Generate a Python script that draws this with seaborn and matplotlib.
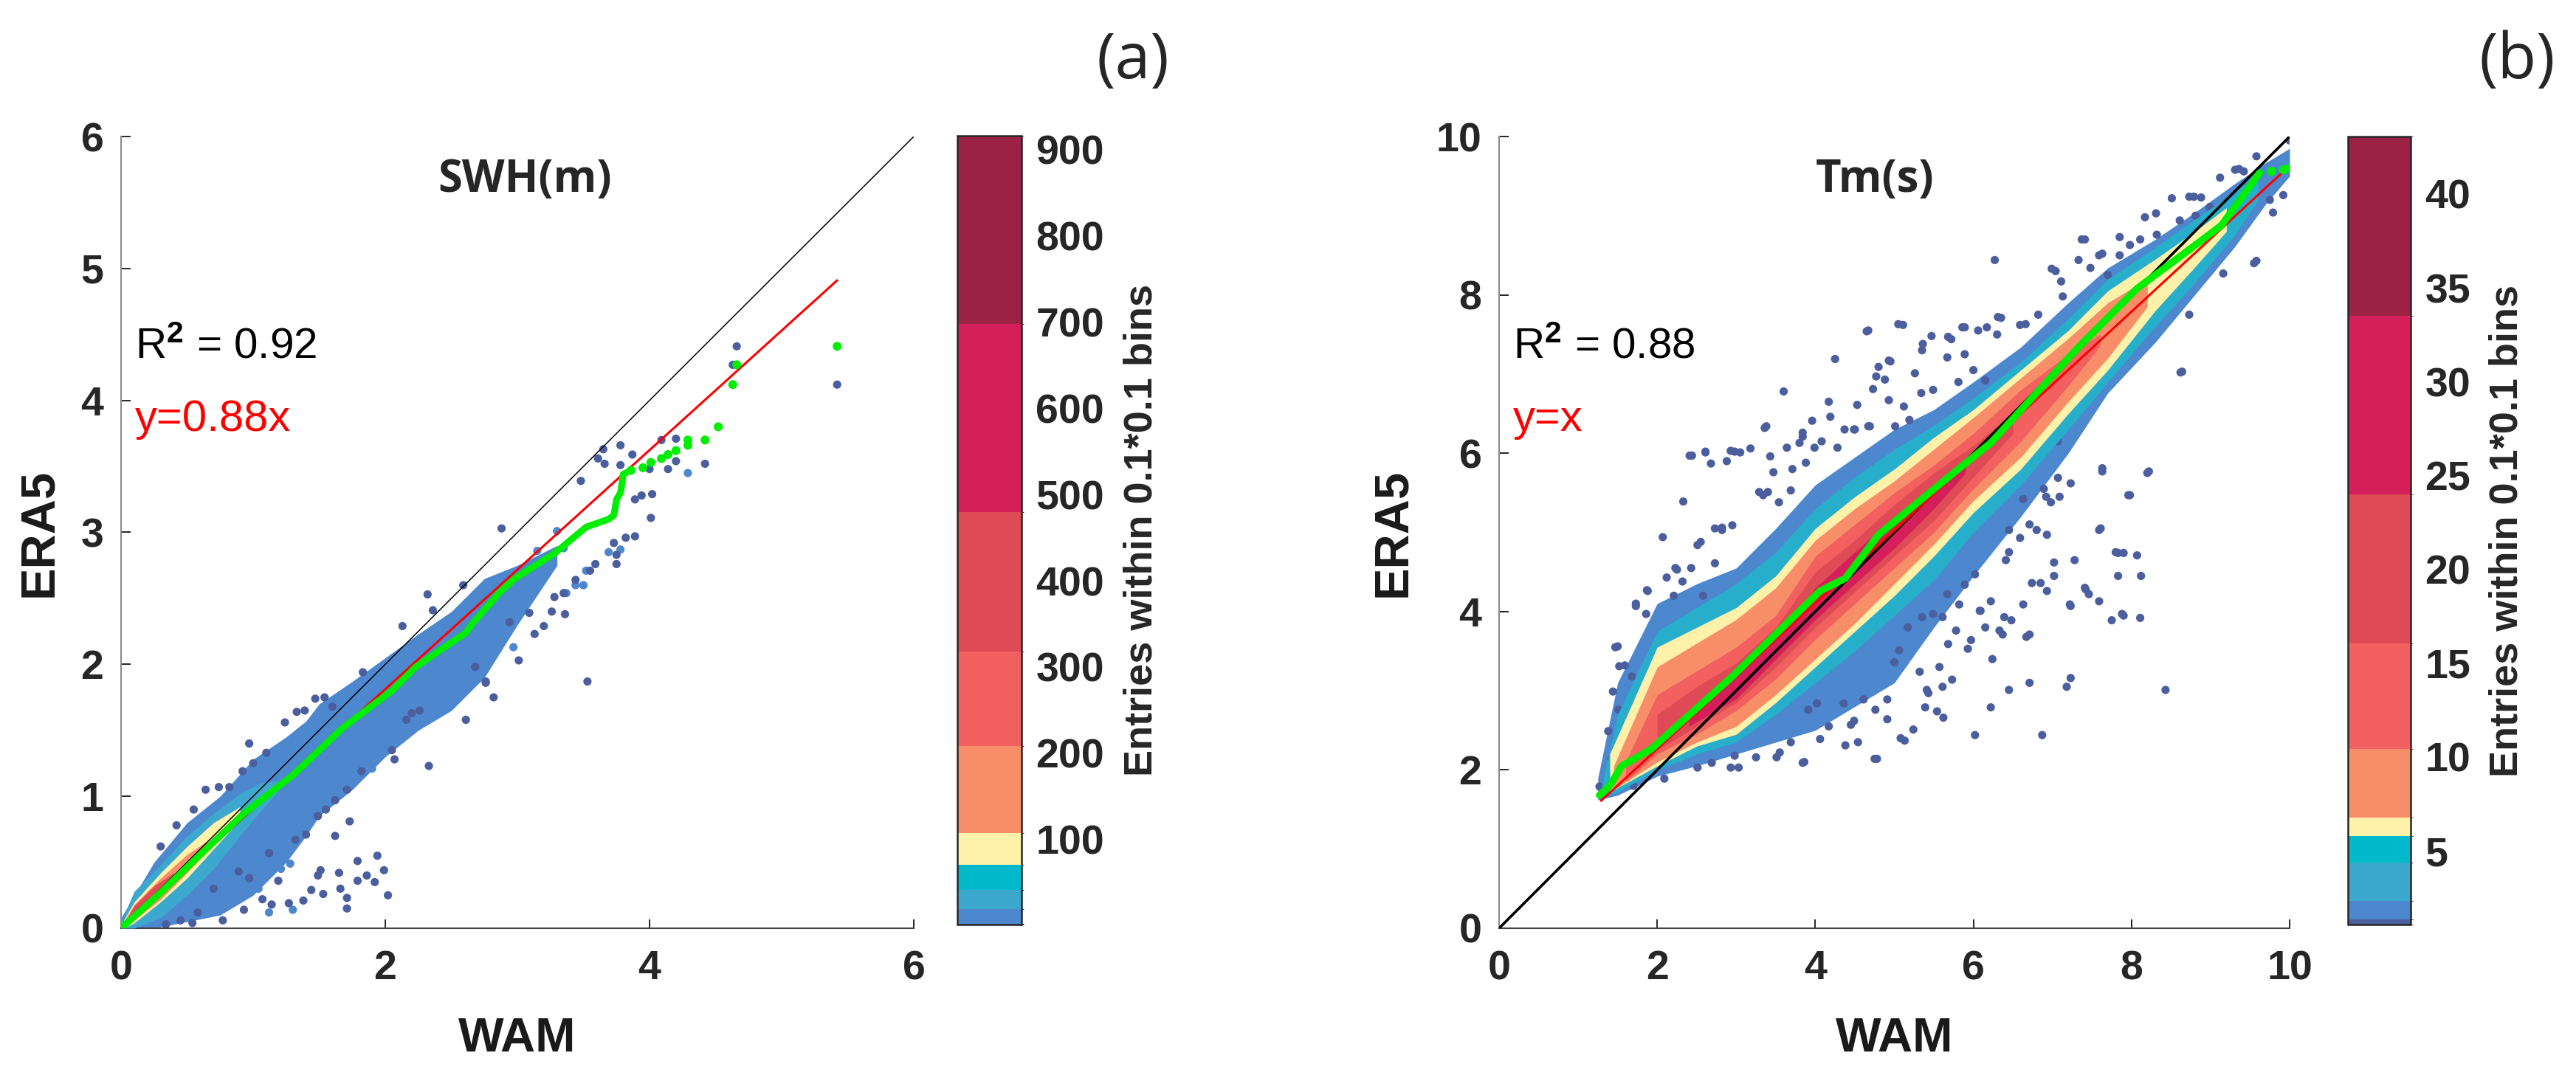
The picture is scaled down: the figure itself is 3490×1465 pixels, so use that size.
import numpy as np
import pandas as pd
import seaborn as sns
import matplotlib as mpl
import matplotlib.pyplot as plt
from matplotlib.colors import ListedColormap, BoundaryNorm

# density classes (colours of the colorbar, low -> high)
class_colors = ['#4b5e9d', '#4d87ce', '#3da8cd', '#00bacb', '#fef1aa',
                '#f78e69', '#f26160', '#de4a55', '#d41f5b', '#9b2245']
swh_bounds = [1, 2, 19.4, 41.4, 70.3, 107.2, 208.6, 318, 480, 698, 916]
tm_bounds = [1.07, 1.35, 2.33, 4.38, 5.79, 6.77, 10.42, 16.04, 24.0, 33.5, 43.06]
swh_cbar_ticks = [100, 200, 300, 400, 500, 600, 700, 800, 900]
tm_cbar_ticks = [5, 10, 15, 20, 25, 30, 35, 40]

# ---------------- panel (a): SWH ----------------
# envelopes of the density zones (x, lower y, upper y)
swh_blue_x = [0.0, 0.25, 0.5, 0.75, 1.0, 1.25, 1.4, 1.5, 1.75, 2.0, 2.25, 2.5, 2.75, 3.0, 3.3]
swh_blue_lo = [0.0, 0.0, 0.05, 0.1, 0.25, 0.5, 0.7, 0.85, 1.05, 1.3, 1.5, 1.65, 1.9, 2.3, 2.75]
swh_blue_hi = [0.08, 0.5, 0.8, 1.0, 1.28, 1.45, 1.57, 1.7, 1.87, 2.05, 2.23, 2.4, 2.65, 2.75, 2.9]
swh_cyan_x = [0.0, 0.1, 0.3, 0.5, 0.7, 0.9, 1.05, 1.2]
swh_cyan_lo = [0.0, 0.0, 0.08, 0.25, 0.45, 0.7, 0.88, 1.05]
swh_cyan_hi = [0.05, 0.28, 0.48, 0.7, 0.87, 1.02, 1.1, 1.12]
swh_yel_x = [0.02, 0.1, 0.3, 0.5, 0.7, 0.9]
swh_yel_lo = [0.0, 0.04, 0.2, 0.38, 0.6, 0.82]
swh_yel_hi = [0.06, 0.2, 0.42, 0.62, 0.8, 0.92]
swh_org_x = [0.02, 0.1, 0.3, 0.5, 0.65]
swh_org_lo = [0.0, 0.06, 0.22, 0.42, 0.58]
swh_org_hi = [0.05, 0.18, 0.38, 0.56, 0.66]
swh_red_x = [0.03, 0.1, 0.25, 0.4]
swh_red_lo = [0.02, 0.07, 0.2, 0.35]
swh_red_hi = [0.05, 0.17, 0.32, 0.42]
swh_crim_x = [0.05, 0.12, 0.2]
swh_crim_lo = [0.04, 0.09, 0.16]
swh_crim_hi = [0.07, 0.15, 0.22]

# single-entry points (navy) and sparse blue points
swh_navy_x = [0.64, 0.74, 0.82, 0.97, 0.92, 1.24, 1.33, 1.39, 1.47, 1.54, 1.60, 1.83, 2.13, 2.32,
              2.36, 2.59, 2.20, 2.26, 2.16, 2.33, 2.61, 2.76, 2.82, 2.68, 2.05, 2.07, 1.82, 1.71,
              1.62, 1.55, 1.49, 1.73, 1.62, 1.40, 1.32, 1.12, 1.94, 1.99, 1.86, 1.92, 2.02, 1.79,
              1.65, 1.66, 1.71, 1.71, 1.79, 1.51, 1.49, 1.53, 1.44, 1.38, 1.14, 1.07, 0.93, 0.77,
              0.54, 0.45, 0.34, 1.19, 1.27, 0.97, 0.89,
              4.66, 4.63, 5.42, 4.42, 4.20, 4.20, 4.14, 4.09, 4.00, 4.02, 4.01, 3.94, 3.89, 3.89,
              3.82, 3.78, 3.87, 3.78, 3.66, 3.65, 3.61, 3.48, 3.75, 3.75, 3.73, 3.59, 3.55, 3.44,
              3.35, 3.28, 3.36, 3.26, 3.20, 3.13, 3.09, 2.88, 2.94, 3.01, 3.53, 2.76,
              0.30, 0.42, 0.55, 1.10, 1.00, 0.58, 0.70]
swh_navy_y = [1.05, 1.07, 1.07, 1.40, 1.19, 1.56, 1.64, 1.65, 1.74, 1.75, 1.68, 1.94, 2.29, 2.53,
              2.41, 2.60, 1.63, 1.65, 1.58, 1.23, 1.58, 1.87, 1.75, 1.98, 1.35, 1.28, 1.19, 1.05,
              0.97, 0.90, 0.85, 0.81, 0.70, 0.71, 0.67, 0.57, 0.55, 0.44, 0.40, 0.35, 0.25, 0.51,
              0.42, 0.30, 0.23, 0.15, 0.36, 0.44, 0.40, 0.26, 0.29, 0.21, 0.18, 0.22, 0.14, 0.06,
              0.04, 0.06, 0.03, 0.36, 0.19, 0.38, 0.43,
              4.41, 4.27, 4.12, 3.52, 3.71, 3.54, 3.48, 3.70, 3.48, 3.29, 3.11, 3.28, 3.25, 2.97,
              2.96, 3.66, 3.59, 3.51, 3.52, 3.63, 3.56, 3.39, 2.83, 2.76, 2.92, 2.76, 2.71, 2.64,
              2.54, 2.51, 2.38, 2.40, 2.29, 2.23, 2.39, 3.03, 2.32, 2.03, 1.87, 1.86,
              0.62, 0.78, 0.90, 1.33, 1.25, 0.12, 0.30]
swh_blue_pts_x = [4.29, 3.30, 3.15, 3.35, 3.78, 3.69, 3.52, 3.50, 3.44, 3.37, 3.02, 2.97, 2.77,
                  2.38, 1.90, 1.21, 1.30, 1.12, 1.04, 1.28, 0.84, 0.71]
swh_blue_pts_y = [3.45, 3.01, 2.86, 2.88, 2.87, 2.85, 2.71, 2.60, 2.60, 2.54, 2.44, 2.13, 2.12,
                  1.68, 1.21, 0.45, 0.14, 0.12, 0.30, 0.49, 0.27, 0.17]

swh_fit_x = [0.0, 5.42]
swh_fit_y = [0.0, 4.91]
swh_qq_x = [0.0, 0.3, 0.56, 0.93, 1.30, 1.68, 2.05, 2.23, 2.61, 2.66, 2.87, 2.98, 3.28, 3.52,
            3.69, 3.73, 3.75, 3.78, 3.79, 3.80, 3.86, 3.95, 4.01, 4.09, 4.14, 4.20, 4.29, 4.29,
            4.42, 4.52, 4.63, 4.66, 5.42]
swh_qq_y = [0.0, 0.27, 0.52, 0.87, 1.16, 1.52, 1.80, 1.98, 2.24, 2.31, 2.55, 2.65, 2.84, 3.04,
            3.10, 3.13, 3.25, 3.30, 3.36, 3.44, 3.47, 3.49, 3.53, 3.56, 3.59, 3.62, 3.66, 3.70,
            3.70, 3.80, 4.12, 4.27, 4.41]

# ---------------- panel (b): Tm ----------------
tm_blue_x = [1.25, 1.5, 2.0, 2.5, 3.0, 3.5, 4.0, 4.5, 5.0, 5.5, 6.0, 6.6, 7.2, 7.7, 8.3, 8.8, 9.3, 9.7, 10.0]
tm_blue_lo = [1.62, 1.68, 1.92, 2.05, 2.2, 2.35, 2.5, 2.8, 3.1, 3.8, 4.45, 5.2, 6.0, 6.76, 7.4, 8.0, 8.6, 9.15, 9.5]
tm_blue_hi = [1.9, 3.1, 4.1, 4.35, 4.55, 5.05, 5.6, 5.95, 6.3, 6.55, 6.9, 7.34, 7.9, 8.34, 8.7, 9.04, 9.4, 9.67, 9.85]
tm_cyan_x = [1.3, 1.5, 2.0, 2.5, 3.0, 3.5, 4.0, 4.5, 5.0, 5.5, 6.0, 6.6, 7.2, 7.7, 8.3, 8.8, 9.3, 9.6]
tm_cyan_lo = [1.66, 1.72, 2.0, 2.2, 2.35, 2.7, 3.1, 3.5, 3.95, 4.4, 5.0, 5.6, 6.3, 6.9, 7.6, 8.15, 8.75, 9.2]
tm_cyan_hi = [1.8, 2.7, 3.75, 4.05, 4.35, 4.75, 5.3, 5.7, 6.05, 6.35, 6.7, 7.15, 7.7, 8.2, 8.6, 8.95, 9.3, 9.5]
tm_yel_x = [1.4, 2.0, 2.5, 3.0, 3.5, 4.0, 4.5, 5.0, 5.5, 6.0, 6.6, 7.2, 7.7, 8.3, 8.8, 9.2]
tm_yel_lo = [1.72, 2.05, 2.3, 2.45, 2.85, 3.3, 3.75, 4.2, 4.7, 5.25, 5.8, 6.5, 7.05, 7.8, 8.35, 8.8]
tm_yel_hi = [2.2, 3.55, 3.8, 4.05, 4.45, 5.05, 5.45, 5.8, 6.2, 6.55, 7.05, 7.55, 8.05, 8.45, 8.8, 9.1]
tm_org_x = [1.45, 2.0, 2.5, 3.0, 3.5, 4.0, 4.5, 5.0, 5.5, 6.0, 6.6, 7.2, 7.7, 8.2]
tm_org_lo = [1.75, 2.1, 2.35, 2.55, 2.95, 3.4, 3.85, 4.35, 4.85, 5.4, 5.95, 6.65, 7.2, 7.85]
tm_org_hi = [2.05, 3.3, 3.6, 3.9, 4.3, 4.9, 5.3, 5.65, 6.05, 6.45, 6.95, 7.45, 7.9, 8.2]
tm_sal_x = [1.6, 2.0, 2.5, 3.0, 3.5, 4.0, 4.5, 5.0, 5.5, 6.0, 6.6, 7.2, 7.6]
tm_sal_lo = [1.85, 2.2, 2.45, 2.75, 3.15, 3.65, 4.1, 4.55, 5.0, 5.55, 6.15, 6.85, 7.35]
tm_sal_hi = [2.1, 2.95, 3.25, 3.55, 3.95, 4.7, 5.1, 5.5, 5.85, 6.25, 6.8, 7.25, 7.5]
tm_red_x = [2.0, 2.5, 3.0, 3.5, 4.0, 4.5, 5.0, 5.5, 6.0, 6.5]
tm_red_lo = [2.25, 2.55, 2.85, 3.3, 3.8, 4.25, 4.7, 5.15, 5.7, 6.25]
tm_red_hi = [2.7, 3.05, 3.35, 3.8, 4.5, 4.9, 5.35, 5.75, 6.1, 6.5]
tm_crim_x = [2.4, 3.0, 3.5, 4.0, 4.5, 5.0, 5.5, 5.9]
tm_crim_lo = [2.55, 2.9, 3.4, 3.9, 4.35, 4.8, 5.3, 5.75]
tm_crim_hi = [2.7, 3.2, 3.65, 4.3, 4.75, 5.2, 5.6, 5.9]

tm_navy_x = [2.41, 2.61, 2.98, 2.33, 2.07, 1.52, 1.47, 1.73, 1.87, 2.25, 2.51, 2.82, 3.34, 3.36,
             3.60, 3.84, 4.25, 4.77, 5.05, 4.65, 4.93, 4.17, 3.96, 3.18, 5.36, 5.68, 5.86, 6.27,
             6.31, 6.66, 6.99, 7.13, 7.37, 7.59, 7.85, 8.17, 8.73, 9.36, 8.89, 8.32,
             8.43, 8.11, 7.88, 7.83, 7.80, 8.07, 7.96, 8.62, 8.20, 7.63, 7.59, 7.23, 7.23, 7.18,
             6.87, 6.45, 6.02, 6.22, 6.71, 7.41, 7.02, 6.85, 6.71, 6.37, 6.24, 5.93, 6.09, 5.73,
             5.62, 5.39, 5.08, 4.75, 4.38, 3.84, 3.55, 2.98, 2.69, 5.41, 5.00, 7.23, 6.92, 7.07,
             6.71, 6.45, 1.27, 1.42, 9.55, 9.75, 10.0,
             # upper-left side, dense part
             4.67, 5.11, 5.47, 5.35, 5.72, 5.89, 6.06, 6.17, 6.30, 6.35, 6.59, 5.89, 4.95, 4.80,
             5.26, 4.88, 4.73, 5.67, 6.00, 6.15, 5.81, 5.49, 5.12, 4.93, 4.53, 5.19, 5.01, 4.67,
             4.49, 5.34, 6.82, 7.04, 7.11, 7.33, 7.41, 7.48, 7.63, 7.70, 7.85, 7.98, 8.11, 8.31,
             8.51, 8.79, 8.88, 8.99, 9.12, 9.31, 9.42, 9.58, 8.81, 8.61,
             2.44, 2.61, 2.68, 2.88, 2.93, 3.05, 1.73, 1.88, 1.86, 1.50, 1.59, 1.44, 1.38, 1.51,
             1.68, 2.21, 2.12, 2.23, 2.32, 2.43, 2.55, 2.73, 2.82, 2.95, 2.58, 2.73, 3.29, 3.40,
             3.43, 3.38, 3.64, 3.80, 3.84, 3.99, 4.08, 4.19, 4.28, 4.37, 4.50, 4.69, 3.71, 3.47,
             3.54, 3.69, 3.88,
             # lower-right side, dense part
             9.92, 9.79, 9.58, 9.16, 8.73, 8.64, 8.22, 7.98, 7.63, 7.61, 7.83, 7.90, 8.12, 7.90,
             7.75, 7.59, 7.42, 7.22, 7.28, 6.93, 7.02, 6.74, 6.93, 6.80, 6.98, 7.09, 7.07, 6.89,
             6.63, 6.59, 6.45, 6.41, 6.63, 6.39, 6.48, 6.22, 6.15, 6.33, 5.97, 5.78, 5.82, 5.89,
             5.67, 5.49, 6.02, 6.08, 6.67, 7.46,
             4.78, 5.13, 4.54, 4.45, 4.06, 3.86, 3.69, 3.51, 3.25, 3.03, 2.93, 2.51, 2.09, 1.70,
             5.24, 5.54, 5.43, 5.32, 5.57, 5.61, 5.68, 4.91, 4.76, 4.61, 4.36, 4.17, 5.06, 5.17,
             5.35, 5.61, 4.91, 4.49, 4.02, 3.91]
tm_navy_y = [5.97, 6.02, 6.02, 5.39, 4.94, 3.31, 3.55, 4.07, 4.27, 4.53, 4.84, 5.06, 5.47, 6.32,
             6.78, 6.21, 7.19, 6.97, 7.63, 7.54, 7.17, 6.65, 6.41, 6.06, 7.38, 7.47, 7.59, 8.44,
             7.72, 7.63, 8.33, 7.98, 8.70, 8.50, 8.50, 8.98, 9.24, 9.59, 8.88, 8.76,
             3.01, 3.92, 3.97, 4.45, 4.75, 4.71, 5.47, 7.02, 5.75, 5.77, 5.03, 4.07, 3.16, 3.05,
             2.44, 3.01, 2.44, 2.79, 3.10, 4.30, 4.62, 4.36, 3.71, 3.71, 3.40, 3.53, 4.01, 3.14,
             2.66, 2.79, 2.40, 2.14, 2.31, 2.09, 2.22, 2.18, 2.09, 3.01, 3.36, 5.62, 5.45, 6.15,
             5.10, 4.75, 1.79, 2.14, 8.40, 9.20, 9.95,
             7.55, 7.62, 7.48, 7.30, 7.44, 7.59, 7.55, 7.59, 7.50, 7.71, 7.62, 7.25, 7.16, 7.09,
             7.01, 6.93, 6.81, 7.21, 7.05, 6.92, 6.90, 6.80, 6.59, 6.67, 6.61, 6.42, 6.34, 6.34,
             6.30, 6.76, 7.75, 8.30, 8.17, 8.44, 8.70, 8.34, 8.52, 8.25, 8.73, 8.63, 8.70, 9.03,
             9.22, 9.24, 9.23, 9.11, 9.48, 9.58, 9.56, 9.75, 9.00, 8.94,
             5.97, 6.01, 5.87, 5.90, 6.03, 6.01, 4.10, 4.26, 3.97, 3.56, 3.32, 2.99, 2.49, 2.76,
             3.18, 4.20, 4.43, 4.55, 4.38, 4.55, 4.88, 5.05, 5.03, 5.09, 4.20, 4.61, 5.51, 5.51,
             5.96, 6.34, 6.07, 6.13, 6.26, 6.07, 6.15, 6.46, 6.07, 6.30, 6.30, 6.34, 5.80, 5.76,
             5.38, 5.53, 5.88,
             9.26, 9.04, 8.43, 8.27, 7.75, 7.03, 5.77, 5.47, 5.81, 5.05, 4.74, 4.74, 4.45, 3.95,
             3.89, 4.13, 4.28, 4.09, 4.65, 4.26, 4.45, 4.36, 4.97, 5.03, 5.38, 5.45, 5.69, 5.55,
             5.42, 4.93, 5.03, 4.65, 4.09, 3.93, 3.89, 4.13, 3.80, 3.76, 3.64, 3.76, 4.09, 4.34,
             4.22, 3.97, 4.47, 4.01, 3.68, 4.22,
             2.14, 2.37, 2.35, 2.57, 2.39, 2.10, 2.35, 2.16, 2.16, 2.03, 2.03, 2.03, 1.89, 1.80,
             2.51, 2.74, 2.97, 3.24, 3.30, 3.05, 3.59, 2.89, 2.76, 2.89, 2.84, 2.55, 3.51, 3.80,
             3.93, 3.93, 2.64, 2.62, 2.84, 2.76]

tm_fit_x = [1.29, 10.0]
tm_fit_y = [1.61, 9.63]
tm_qq_x = [1.27, 1.40, 1.55, 1.92, 2.95, 4.06, 4.38, 4.80, 5.76, 6.22, 7.33, 8.07, 8.81, 9.14, 9.62]
tm_qq_y = [1.68, 1.80, 2.05, 2.26, 3.18, 4.26, 4.42, 4.97, 5.76, 6.13, 7.34, 8.08, 8.63, 8.88, 9.54]
tm_qq_tail_x = [9.77, 9.92, 10.0]
tm_qq_tail_y = [9.56, 9.58, 9.60]

# ---------------- style ----------------
sns.set_style("ticks")
plt.rcParams['font.family'] = ['Liberation Sans', 'DejaVu Sans']
plt.rcParams['font.weight'] = 'bold'
plt.rcParams['mathtext.fontset'] = 'custom'
plt.rcParams['mathtext.rm'] = 'Liberation Sans'
plt.rcParams['mathtext.it'] = 'Liberation Sans'

fig = plt.figure(figsize=(34.9, 14.65), dpi=100)
ax_a = fig.add_axes([0.04699, 0.14130, 0.30774, 0.73242])
cax_a = fig.add_axes([0.37155, 0.14450, 0.02501, 0.72990])
ax_b = fig.add_axes([0.58195, 0.14130, 0.30688, 0.73242])
cax_b = fig.add_axes([0.91146, 0.14470, 0.02436, 0.72900])


def zone(ax, x, lo, hi, color, z):
    ax.fill_between(x, lo, hi, color=color, linewidth=0, zorder=z)


def draw_panel(ax, zones, navy, blue_pts, fit, lim, ticks, title, fit_label, r2, diag_lw):
    # outer (blue) zone first, single entries on top of it, hotter zones above
    zx, zlo, zhi, col = zones[0]
    zone(ax, zx, zlo, zhi, col, 1)
    if blue_pts is not None:
        sns.scatterplot(x=blue_pts[0], y=blue_pts[1], color=class_colors[1], s=65,
                        edgecolor='none', ax=ax, zorder=1.5)
    sns.scatterplot(x=navy[0], y=navy[1], color=class_colors[0], s=65, edgecolor='none',
                    ax=ax, zorder=2)
    for zx, zlo, zhi, col in zones[1:]:
        zone(ax, zx, zlo, zhi, col, 3)
    sns.lineplot(x=[0, lim], y=[0, lim], color='black', lw=diag_lw, ax=ax, zorder=4)
    sns.lineplot(x=fit[0], y=fit[1], color='#ff0000', lw=2.2, ax=ax, zorder=5)
    ax.set_xlim(0, lim)
    ax.set_ylim(0, lim)
    ax.set_xticks(ticks)
    ax.set_yticks(ticks)
    ax.tick_params(direction='in', length=9, width=1.4, labelsize=40, colors='#262626')
    ax.tick_params(axis='x', pad=21)
    ax.tick_params(axis='y', pad=17)
    sns.despine(ax=ax)
    ax.spines['left'].set_color('#8c8c8c')
    ax.spines['bottom'].set_color('#404040')
    ax.spines['left'].set_linewidth(1.5)
    ax.spines['bottom'].set_linewidth(1.5)
    ax.set_xlabel('WAM', fontsize=47, fontweight='bold', color='#1a1a1a')
    ax.set_ylabel('ERA5', fontsize=47, fontweight='bold', color='#1a1a1a')
    ax.xaxis.set_label_coords(0.5, -0.112)
    ax.text(0.40, 0.945, title, transform=ax.transAxes, ha='left', va='center',
            fontsize=43, fontweight='bold', family=['Open Sans', 'DejaVu Sans'])
    ax.text(0.0177, 0.7195, r'R$^{2}$ = ' + r2, transform=ax.transAxes, ha='left',
            va='baseline', fontsize=42, fontweight='normal', color='black')
    ax.text(0.0177, 0.628, fit_label, transform=ax.transAxes, ha='left', va='baseline',
            fontsize=43, fontweight='normal', color='#ff0000')


def draw_cbar(cax, bounds, ticks):
    cmap = ListedColormap(class_colors)
    norm = BoundaryNorm(bounds, cmap.N)
    cb = fig.colorbar(mpl.cm.ScalarMappable(norm=norm, cmap=cmap), cax=cax,
                      spacing='proportional', ticks=ticks)
    cb.outline.set_edgecolor('#262626')
    cb.outline.set_linewidth(1.8)
    cax.tick_params(direction='in', length=9, width=1.6, labelsize=40, pad=14,
                    colors='#262626')
    return cb


swh_zones = [
    (swh_blue_x, swh_blue_lo, swh_blue_hi, class_colors[1]),
    (swh_cyan_x, swh_cyan_lo, swh_cyan_hi, class_colors[2]),
    (swh_yel_x, swh_yel_lo, swh_yel_hi, class_colors[4]),
    (swh_org_x, swh_org_lo, swh_org_hi, class_colors[5]),
    (swh_red_x, swh_red_lo, swh_red_hi, class_colors[7]),
    (swh_crim_x, swh_crim_lo, swh_crim_hi, class_colors[9]),
]
tm_zones = [
    (tm_blue_x, tm_blue_lo, tm_blue_hi, class_colors[1]),
    (tm_cyan_x, tm_cyan_lo, tm_cyan_hi, '#27aecb'),
    (tm_yel_x, tm_yel_lo, tm_yel_hi, class_colors[4]),
    (tm_org_x, tm_org_lo, tm_org_hi, class_colors[5]),
    (tm_sal_x, tm_sal_lo, tm_sal_hi, class_colors[6]),
    (tm_red_x, tm_red_lo, tm_red_hi, class_colors[7]),
    (tm_crim_x, tm_crim_lo, tm_crim_hi, class_colors[8]),
]

draw_panel(ax_a, swh_zones, (swh_navy_x, swh_navy_y), (swh_blue_pts_x, swh_blue_pts_y),
           (swh_fit_x, swh_fit_y), 6, [0, 2, 4, 6], 'SWH(m)', 'y=0.88x', '0.92', 1.1)
ax_a.set_yticks([0, 1, 2, 3, 4, 5, 6])
ax_a.yaxis.set_label_coords(-0.075, 0.5)

# quantile curve: dense part as a thick line, upper tail as separate dots
n_line = 21
sns.lineplot(x=swh_qq_x[:n_line], y=swh_qq_y[:n_line], color='#00ee00', lw=6.5,
             ax=ax_a, zorder=6, sort=False, estimator=None)
sns.scatterplot(x=swh_qq_x[n_line - 1:], y=swh_qq_y[n_line - 1:], color='#00ee00', s=75,
                edgecolor='none', ax=ax_a, zorder=6)

draw_panel(ax_b, tm_zones, (tm_navy_x, tm_navy_y), None, (tm_fit_x, tm_fit_y), 10,
           [0, 2, 4, 6, 8, 10], 'Tm(s)', 'y=x', '0.88', 2.6)
ax_b.yaxis.set_label_coords(-0.106, 0.5)
sns.lineplot(x=tm_qq_x, y=tm_qq_y, color='#00ee00', lw=7, ax=ax_b, zorder=6, sort=False,
             estimator=None)
sns.scatterplot(x=tm_qq_tail_x, y=tm_qq_tail_y, color='#00ee00', s=80, edgecolor='none',
                ax=ax_b, zorder=6)

draw_cbar(cax_a, swh_bounds, swh_cbar_ticks)
draw_cbar(cax_b, tm_bounds, tm_cbar_ticks)
cax_a.text(2.575, 0.5, 'Entries within 0.1*0.1 bins', transform=cax_a.transAxes,
           rotation=90, ha='left', va='center', fontsize=39, fontweight='bold')
cax_b.text(2.235, 0.5, 'Entries within 0.1*0.1 bins', transform=cax_b.transAxes,
           rotation=90, ha='left', va='center', fontsize=39, fontweight='bold')

fig.text(1535 / 3490, 1 - 84 / 1465, '(a)', ha='center', va='center', fontsize=62,
         fontweight='normal', family=['Open Sans', 'DejaVu Sans'])
fig.text(3410 / 3490, 1 - 84 / 1465, '(b)', ha='center', va='center', fontsize=62,
         fontweight='normal', family=['Open Sans', 'DejaVu Sans'])

fig.savefig('out.png', dpi=100, facecolor='white')
